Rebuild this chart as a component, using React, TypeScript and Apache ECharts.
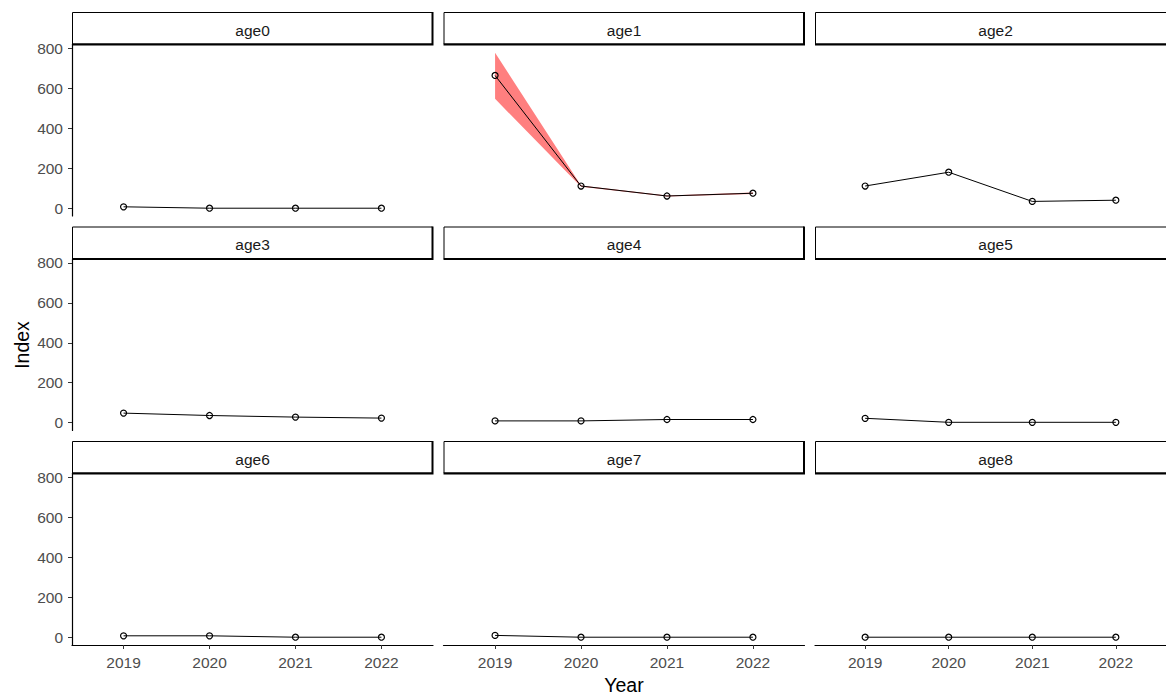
import React, { useEffect, useRef } from "react";
import * as echarts from "echarts";

const years = [2019, 2020, 2021, 2022];
const panelNames = ["age0", "age1", "age2", "age3", "age4", "age5", "age6", "age7", "age8"];
const age0 = [7, 0, 0, 0];
const age1 = [664, 111, 61, 75];
const age2 = [111, 180, 34, 40];
const age3 = [48, 36, 28, 23];
const age4 = [9, 9, 16, 16];
const age5 = [22, 2, 2, 2];
const age6 = [7, 7, 0, 0];
const age7 = [9, 0, 0, 0];
const age8 = [0, 0, 0, 0];
const panelValues = [age0, age1, age2, age3, age4, age5, age6, age7, age8];
// confidence ribbon for age1
const age1Lower = [547, 107, 59, 71];
const age1Upper = [778, 114, 63, 78];
const yTicks = [0, 200, 400, 600, 800];
const xTicks = [2019, 2020, 2021, 2022];

const FONT = "'Liberation Sans', Arial, sans-serif";

export default function App() {
  const ref = useRef<HTMLDivElement>(null);
  useEffect(() => {
    if (!ref.current) return;
    const chart = echarts.init(ref.current, null, { renderer: "svg" });
    const colLeft = [72, 443.5, 815];
    const panelW = 361;
    const stripTop = [12, 226.5, 441];
    const stripH = 32.5;
    const panelH = 171.5;

    const grids: any[] = [];
    const xAxes: any[] = [];
    const yAxes: any[] = [];
    const series: any[] = [];
    const graphics: any[] = [];

    panelNames.forEach((name, i) => {
      const r = Math.floor(i / 3);
      const c = i % 3;
      const top = stripTop[r] + stripH;
      grids.push({ left: colLeft[c], top, width: panelW, height: panelH, containLabel: false });
      const isBottom = r === 2;
      const isLeft = c === 0;
      xAxes.push({
        type: "value",
        gridIndex: i,
        min: 2018.4,
        max: 2022.6,
        splitLine: { show: false },
        axisLine: { show: isBottom, onZero: false, lineStyle: { color: "#000", width: 1.2 } },
        axisTick: { show: isBottom, length: 4, customValues: xTicks, lineStyle: { color: "#333", width: 1 } },
        axisLabel: {
          show: isBottom,
          customValues: xTicks,
          formatter: (v: number) => String(v),
          color: "#4D4D4D",
          fontSize: 15.5,
          fontFamily: FONT,
          margin: 9,
        },
      });
      yAxes.push({
        type: "value",
        gridIndex: i,
        min: -39,
        max: 819,
        splitLine: { show: false },
        axisLine: { show: isLeft, onZero: false, lineStyle: { color: "#000", width: 1.2 } },
        axisTick: { show: isLeft, length: 4, customValues: yTicks, lineStyle: { color: "#333", width: 1 } },
        axisLabel: {
          show: isLeft,
          customValues: yTicks,
          color: "#4D4D4D",
          fontSize: 15.5,
          fontFamily: FONT,
          margin: 9,
        },
      });

      if (name === "age1") {
        series.push({
          type: "custom",
          xAxisIndex: i,
          yAxisIndex: i,
          silent: true,
          z: 1,
          data: years.map((y, k) => [y, age1Lower[k], age1Upper[k]]),
          renderItem: (params: any, api: any) => {
            if (params.dataIndex !== 0) return null;
            const upper = years.map((y, k) => api.coord([y, age1Upper[k]]));
            const lower = years.map((y, k) => api.coord([y, age1Lower[k]])).reverse();
            return {
              type: "polygon",
              shape: { points: upper.concat(lower) },
              style: { fill: "rgba(255,0,0,0.5)", stroke: "none" },
            };
          },
        });
      }

      series.push({
        type: "line",
        xAxisIndex: i,
        yAxisIndex: i,
        z: 3,
        data: years.map((y, k) => [y, panelValues[i][k]]),
        symbol: "circle",
        symbolSize: 6,
        showSymbol: true,
        lineStyle: { color: "#000", width: 1 },
        itemStyle: { color: "rgba(255,255,255,0)", borderColor: "#000", borderWidth: 1.2 },
        emphasis: { disabled: true },
      });

      const sx = colLeft[c];
      const sy = stripTop[r];
      graphics.push({
        type: "rect",
        shape: { x: sx + 0.5, y: sy + 0.5, width: panelW - 1, height: stripH - 1 },
        style: { fill: "#fff", stroke: "#000", lineWidth: 1 },
        z: 10,
      });
      graphics.push({
        type: "polyline",
        shape: { points: [[sx + panelW - 0.5, sy], [sx + panelW - 0.5, sy + stripH], [sx, sy + stripH]] },
        style: { fill: "none", stroke: "#000", lineWidth: 2 },
        z: 11,
      });
      graphics.push({
        type: "text",
        x: sx + panelW / 2,
        y: sy + stripH / 2 + 2,
        style: {
          text: name,
          fill: "#1A1A1A",
          font: `15.5px ${FONT}`,
          align: "center",
          verticalAlign: "middle",
        },
        z: 12,
      });
    });

    graphics.push({
      type: "text",
      x: 624,
      y: 685,
      style: { text: "Year", fill: "#000", font: `19.5px ${FONT}`, align: "center", verticalAlign: "middle" },
    });
    graphics.push({
      type: "text",
      x: 22,
      y: 345,
      rotation: Math.PI / 2,
      style: { text: "Index", fill: "#000", font: `19.5px ${FONT}`, align: "center", verticalAlign: "middle" },
    });

    chart.setOption({
      animation: false,
      backgroundColor: "#fff",
      grid: grids,
      xAxis: xAxes,
      yAxis: yAxes,
      series,
      graphic: graphics,
    });
    return () => chart.dispose();
  }, []);
  return (
    <div
      ref={ref}
      style={{ position: "fixed", left: 0, top: 0, width: 1166, height: 695, background: "#fff" }}
    />
  );
}
